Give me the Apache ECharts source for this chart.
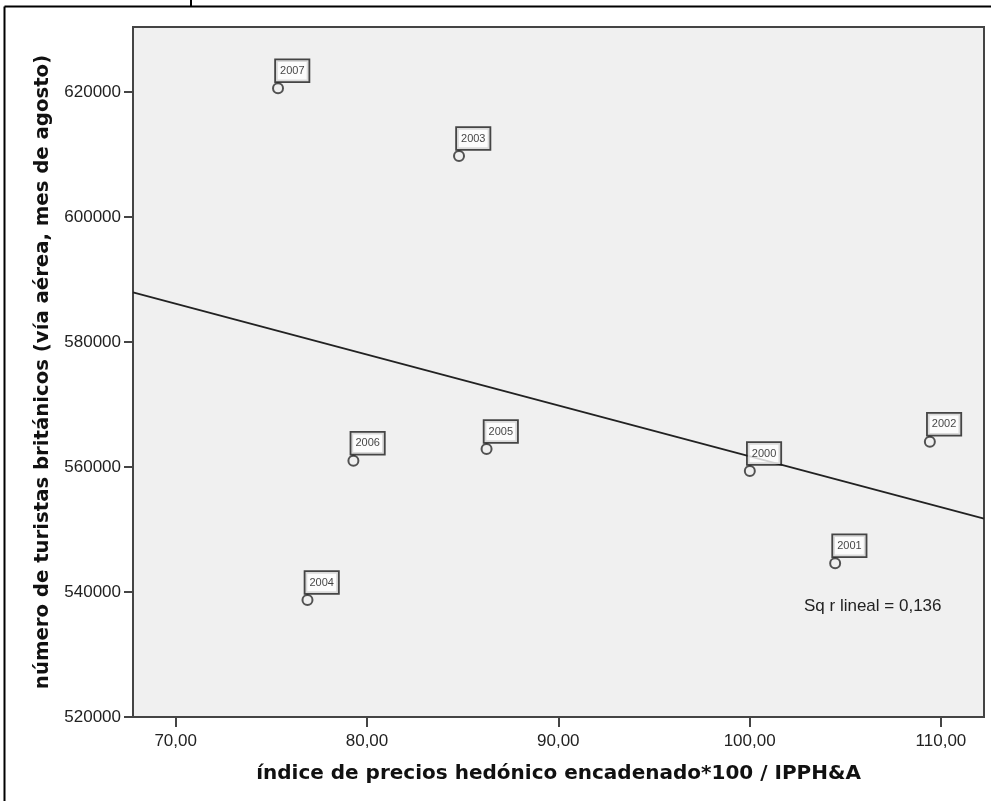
<!DOCTYPE html>
<html>
<head>
<meta charset="utf-8">
<script src="https://cdn.jsdelivr.net/npm/echarts@6/dist/echarts.min.js"></script>
<style>
  html, body { margin: 0; padding: 0; background: #ffffff; }
  #chart { width: 991px; height: 801px; }
</style>
</head>
<body>
<div id="chart"></div>
<script>
// Años de la muestra (etiqueta de cada punto)
const years = ['2007', '2003', '2006', '2005', '2004', '2000', '2002', '2001'];
// Índice de precios hedónico encadenado*100 / IPPH&A
const priceIndex = [75.35, 84.81, 79.29, 86.25, 76.89, 100.01, 109.42, 104.47];
// Número de turistas británicos (vía aérea, mes de agosto)
const tourists = [620600, 609760, 561010, 562880, 538720, 559360, 564050, 544590];
// Recta de ajuste lineal: extremos sobre el rango del eje X
const fitX = [67.77, 112.25];
const fitY = [587950, 551750];
// Marcas de los ejes
const xTicks = [70, 80, 90, 100, 110];
const yTicks = [520000, 540000, 560000, 580000, 600000, 620000];
const xRange = [67.77, 112.25];
const yRange = [520000, 630400];
const r2Text = 'Sq r lineal = 0,136';

const chart = echarts.init(document.getElementById('chart'), null, { renderer: 'canvas' });

const points = priceIndex.map((x, i) => ({ value: [x, tourists[i]], name: years[i] }));
const fitLine = fitX.map((x, i) => [x, fitY[i]]);

const axisFont = { fontFamily: 'Liberation Sans, Arial, sans-serif', fontSize: 17, color: '#222' };
const nameFont = { fontFamily: 'DejaVu Sans, Verdana, sans-serif', fontSize: 20, fontWeight: 'bold', color: '#111' };

chart.setOption({
  animation: false,
  backgroundColor: '#ffffff',
  grid: {
    left: 133, top: 27, right: 7, bottom: 84,
    show: true, backgroundColor: '#f0f0f0', borderColor: '#444', borderWidth: 2
  },
  xAxis: {
    type: 'value',
    min: xRange[0], max: xRange[1],
    name: 'índice de precios hedónico encadenado*100 / IPPH&A',
    nameLocation: 'middle', nameGap: 47,
    nameTextStyle: nameFont,
    axisLine: { show: true, onZero: false, lineStyle: { color: '#444', width: 2 } },
    axisTick: { show: true, length: 10, customValues: xTicks, lineStyle: { color: '#444', width: 2 } },
    axisLabel: {
      ...axisFont, margin: 16, customValues: xTicks,
      formatter: v => v.toFixed(2).replace('.', ',')
    },
    splitLine: { show: false }
  },
  yAxis: {
    type: 'value',
    min: yRange[0], max: yRange[1],
    name: 'número de turistas británicos (vía aérea, mes de agosto)',
    nameLocation: 'middle', nameGap: 80,
    nameTextStyle: { ...nameFont, fontSize: 19.7 },
    axisLine: { show: true, onZero: false, lineStyle: { color: '#444', width: 2 } },
    axisTick: { show: true, length: 9, customValues: yTicks, lineStyle: { color: '#444', width: 2 } },
    axisLabel: { ...axisFont, margin: 12, customValues: yTicks, formatter: v => String(v) },
    splitLine: { show: false }
  },
  series: [
    {
      type: 'line',
      data: fitLine,
      symbol: 'none',
      silent: true,
      lineStyle: { color: '#222', width: 1.8 },
      z: 2
    },
    {
      type: 'scatter',
      data: points,
      symbol: 'circle',
      symbolSize: 10,
      itemStyle: { color: 'rgba(0,0,0,0)', borderColor: '#2a2a2a', borderWidth: 2 },
      label: {
        show: true,
        formatter: p => p.name,
        position: [4, -22],
        fontFamily: 'Liberation Sans, Arial, sans-serif',
        fontSize: 11,
        lineHeight: 11,
        color: '#111',
        backgroundColor: '#ffffff',
        borderColor: '#1a1a1a',
        borderWidth: 1.8,
        padding: [5, 4, 5, 4]
      },
      z: 3
    }
  ],
  graphic: [
    // marco exterior
    { type: 'line', shape: { x1: 4.5, y1: 6.5, x2: 991, y2: 6.5 }, style: { stroke: '#000', lineWidth: 2 } },
    { type: 'line', shape: { x1: 4.5, y1: 6.5, x2: 4.5, y2: 801 }, style: { stroke: '#000', lineWidth: 2 } },
    { type: 'line', shape: { x1: 191, y1: 0, x2: 191, y2: 6 }, style: { stroke: '#000', lineWidth: 2 } },
    {
      type: 'text', left: 804, top: 598,
      style: { text: r2Text, fontFamily: 'Liberation Sans, Arial, sans-serif', fontSize: 17, fill: '#222' }
    }
  ]
});
</script>
</body>
</html>
